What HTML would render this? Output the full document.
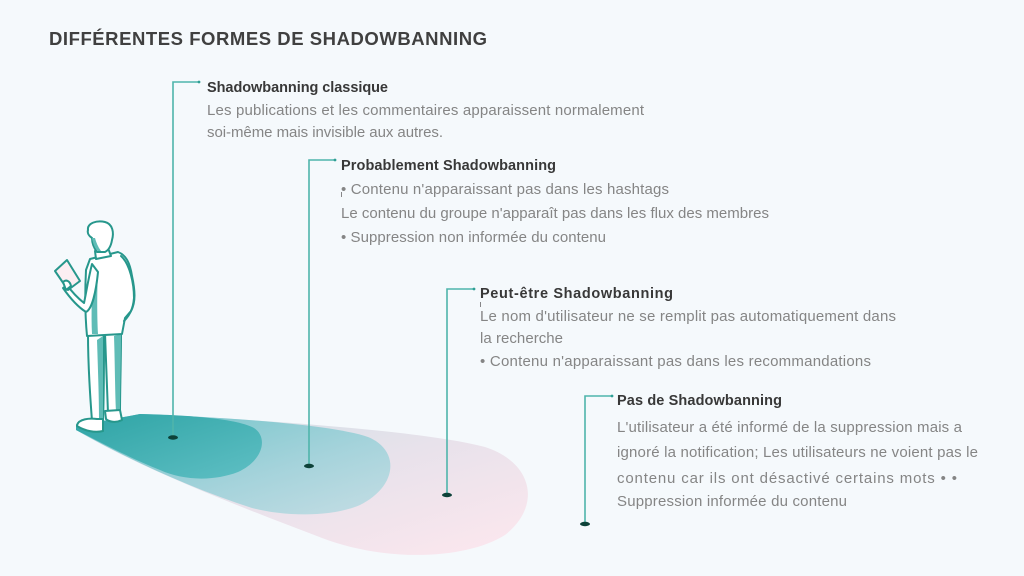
<!DOCTYPE html>
<html><head><meta charset="utf-8">
<style>
html,body{margin:0;padding:0;background:#f5f9fc;}
svg{display:block;}
.t{font-family:"Liberation Sans",sans-serif;}
.h{font-family:"Liberation Sans",sans-serif;font-weight:bold;font-size:14.5px;fill:#383838;}
.b{font-family:"Liberation Sans",sans-serif;font-size:15px;fill:#858585;}
</style></head>
<body>
<svg width="1024" height="576" viewBox="0 0 1024 576" xmlns="http://www.w3.org/2000/svg">
<defs>
<linearGradient id="gOut" x1="0" y1="0" x2="1" y2="1">
<stop offset="0" stop-color="#c8dfe5"/>
<stop offset="0.5" stop-color="#e8e2eb"/>
<stop offset="1" stop-color="#fde7ee"/>
</linearGradient>
<linearGradient id="gMid" x1="0" y1="0" x2="1" y2="1">
<stop offset="0" stop-color="#6cc2c7"/>
<stop offset="0.6" stop-color="#a5d3db"/>
<stop offset="1" stop-color="#c4dde4"/>
</linearGradient>
<linearGradient id="gIn" x1="0" y1="0" x2="1" y2="1">
<stop offset="0" stop-color="#2ea4a5"/>
<stop offset="1" stop-color="#5fbfc4"/>
</linearGradient>
</defs>
<rect width="1024" height="576" fill="#f5f9fc"/>

<!-- Title -->
<text class="t" x="49" y="45" font-size="18.5" font-weight="bold" fill="#404040" textLength="438">DIFFÉRENTES FORMES DE SHADOWBANNING</text>

<!-- Shadow blobs -->
<path d="M76,426 L140,414 C250,419 420,430 485,447 C532,462 543,505 505,535 C465,560 385,562 322,538 C230,503 140,468 76,430 Z" fill="url(#gOut)"/>
<path d="M76,426 L140,414 C220,417 330,424 368,437 C400,450 398,486 360,505 C330,518 282,516 252,508 C190,488 130,460 76,430 Z" fill="url(#gMid)"/>
<path d="M76,426 L140,414 C190,415 238,419 254,428 C268,437 264,460 238,472 C212,482 182,480 160,470 C130,458 100,442 76,430 Z" fill="url(#gIn)"/>

<!-- Brackets -->
<g stroke="#4fb5ab" stroke-width="1.6" fill="none">
<path d="M173,437 L173,82 L199,82"/>
<path d="M309,466 L309,160 L335,160"/>
<path d="M447,495 L447,289 L474,289"/>
<path d="M585,524 L585,396 L612,396"/>
</g>
<g fill="#2f9f95">
<circle cx="199" cy="82" r="1.4"/>
<circle cx="335" cy="160" r="1.4"/>
<circle cx="474" cy="289" r="1.4"/>
<circle cx="612" cy="396" r="1.4"/>
</g>
<g fill="#0d4239">
<ellipse cx="173" cy="437.5" rx="5" ry="2.2"/>
<ellipse cx="309" cy="466" rx="5" ry="2.2"/>
<ellipse cx="447" cy="495" rx="5" ry="2.2"/>
<ellipse cx="585" cy="524" rx="5" ry="2.2"/>
</g>
<g stroke="#6a6a6a" stroke-width="0.8">
<line x1="341.5" y1="192" x2="341.5" y2="197"/>
<line x1="480.5" y1="302" x2="480.5" y2="307"/>
</g>

<!-- Texts 1 -->
<text class="h" x="207" y="92" textLength="181">Shadowbanning classique</text>
<text class="b" x="207" y="115" textLength="437">Les publications et les commentaires apparaissent normalement</text>
<text class="b" x="207" y="137" textLength="236">soi-même mais invisible aux autres.</text>

<!-- Texts 2 -->
<text class="h" x="341" y="170" textLength="215">Probablement Shadowbanning</text>
<text class="b" x="341" y="194" textLength="328">• Contenu n'apparaissant pas dans les hashtags</text>
<text class="b" x="341" y="218" textLength="428">Le contenu du groupe n'apparaît pas dans les flux des membres</text>
<text class="b" x="341" y="242" textLength="265">• Suppression non informée du contenu</text>

<!-- Texts 3 -->
<text class="h" x="480" y="298" textLength="193">Peut-être Shadowbanning</text>
<text class="b" x="480" y="321" textLength="416">Le nom d'utilisateur ne se remplit pas automatiquement dans</text>
<text class="b" x="480" y="343" textLength="83">la recherche</text>
<text class="b" x="480" y="366" textLength="391">• Contenu n'apparaissant pas dans les recommandations</text>

<!-- Texts 4 -->
<text class="h" x="617" y="405" textLength="165">Pas de Shadowbanning</text>
<text class="b" x="617" y="432" textLength="345">L'utilisateur a été informé de la suppression mais a</text>
<text class="b" x="617" y="457" textLength="361">ignoré la notification; Les utilisateurs ne voient pas le</text>
<text class="b" x="617" y="483" textLength="340">contenu car ils ont désactivé certains mots • •</text>
<text class="b" x="617" y="506" textLength="230">Suppression informée du contenu</text>

<!-- Figure -->
<g stroke="#27978c" stroke-width="2" stroke-linejoin="round" stroke-linecap="round">
<!-- legs -->
<path d="M88,334 L104,333 C104,360 104,395 103,420 L92,421 C90,395 88,360 88,334 Z" fill="#ffffff"/>
<path d="M97,340 C98,370 99,400 99,419 L103,419 C103,395 103,360 103,336 Z" fill="#5fbcb6" stroke="none"/>
<path d="M105,333 L121,332 C121,360 120,390 120,412 L108,413 C107,390 106,360 105,333 Z" fill="#ffffff"/>
<path d="M114,336 C115,365 115,395 116,411 L120,411 C120,390 121,360 121,334 Z" fill="#5fbcb6" stroke="none"/>
<!-- shoes -->
<path d="M77,425 C79,419 89,418 97,419 L103,419 L103,431 C95,433 85,431 77,426 Z" fill="#ffffff"/>
<path d="M105,411 L120,410 L122,420 C116,423 109,422 106,419 Z" fill="#ffffff"/>
<!-- jacket -->
<path d="M90,259 L118,252 C126,255 130,263 132,276 C135,290 136,302 131,311 L125,318 L122,334 L87,336 C85,315 85,290 86,270 Z" fill="#ffffff"/>
<path d="M93,270 C92,290 91,315 92,334 L98,334 C97,315 97,290 98,275 Z" fill="#5fbcb6" stroke="none"/>
<!-- right arm (back) -->
<path d="M121,256 C130,264 134,284 134,298 C133,310 129,316 124,321" fill="none"/>
<!-- left arm -->
<path d="M92,264 C88,280 86,294 84,303 C79,299 72,292 67,285 L63,288 C70,298 78,307 86,312 C92,309 96,292 98,272 Z" fill="#ffffff"/>
<!-- tablet -->
<path d="M55,271 L67,260 L80,281 L68,290 Z" fill="#fbeef2"/>
<!-- hand -->
<path d="M63,282 C66,279 70,281 71,286 L66,290 Z" fill="#ffffff"/>
<!-- neck/collar -->
<path d="M95,251 L108,248 L111,256 L96,259 Z" fill="#ffffff"/>
<!-- head -->
<path d="M88,230 C87,223 97,220 105,222 C113,224 114,233 112,240 C111,246 109,250 105,252 L97,252 C94,248 92,243 92,238 C89,236 87,233 88,230 Z" fill="#ffffff"/>
<path d="M92,238 C93,244 95,249 98,251 L101,251 C98,247 96,242 95,238 Z" fill="#5fbcb6" stroke="none"/>
</g>
</svg>
</body></html>
